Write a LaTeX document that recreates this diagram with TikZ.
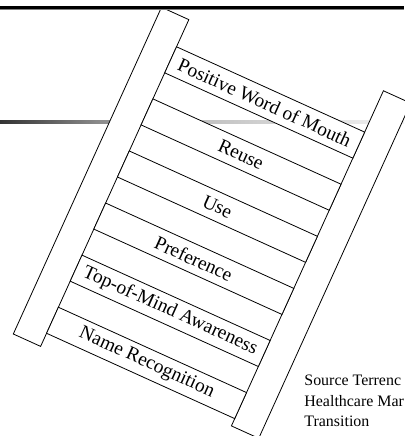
\documentclass[tikz,border=0pt]{standalone}
\usepackage{fontspec}
\setmainfont{Liberation Serif}
\pgfdeclarehorizontalshading{barshade}{100bp}{color(0bp)=(black!80); color(25bp)=(black!80); color(37.4bp)=(black!45); color(50.6bp)=(black!24); color(70.4bp)=(black!8); color(75bp)=(black!5); color(100bp)=(black!5)}
\begin{document}
\begin{tikzpicture}[x=1bp,y=1bp, line width=0.8bp,
  rail/.style={draw=black, fill=white},
  rung/.style={draw=black, fill=white, minimum width=206.6bp, minimum height=28.6bp, inner sep=0pt, transform shape, font=\fontsize{19.5}{22}\selectfont},
  src/.style={anchor=base west, inner sep=0pt, font=\fontsize{16}{20}\selectfont}]
\useasboundingbox (0,0) rectangle (404,436);
\shade[shading=barshade] (0,312) rectangle (404,315);
\begin{scope}[shift={(13.3,102)}, rotate=-24.4]
  \draw[rail] (0,0) rectangle (30,358.8);
  \draw[rail] (236.6,6.4) rectangle (266.6,374.4);
  \node[rung] (r0) at (133.3,28.7) {Name Recognition};
  \node[rung] (r1) at (133.3,85.9) {Top-of-Mind Awareness};
  \node[rung] (r2) at (133.3,143.1) {Preference};
  \node[rung] (r3) at (133.3,200.3) {Use};
  \node[rung] (r4) at (133.3,257.5) {Reuse};
  \node[rung] (r5) at (133.3,314.7) {Positive Word of Mouth};
\end{scope}
\node[src] (s1) at (304,50.3) {Source Terrenc};
\node[src] (s2) at (304,29.7) {Healthcare Mar};
\node[src] (s3) at (304,9.3) {Transition};
\draw[gray, line width=1bp] (0,426.4) -- (404,426.4);
\draw[line width=2.7bp] (0,428.6) -- (404,428.6);
\end{tikzpicture}
\end{document}
